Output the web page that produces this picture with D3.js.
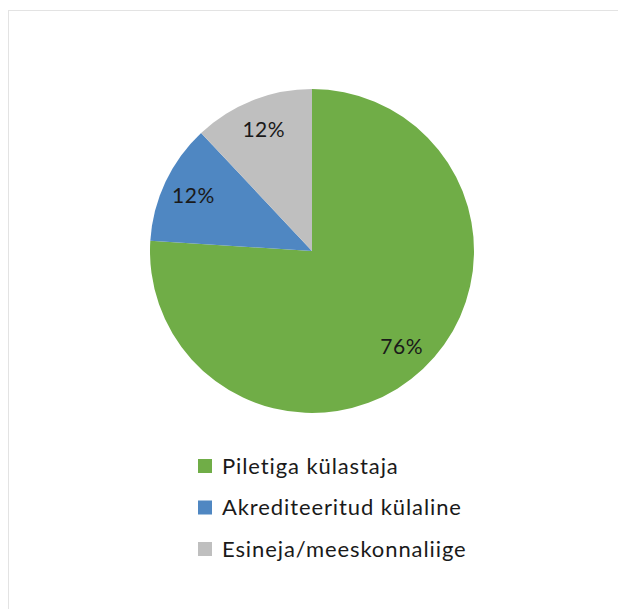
<!DOCTYPE html>
<html><head><meta charset="utf-8">
<script src="https://cdn.jsdelivr.net/npm/d3@7"></script>
<style>body{margin:0;background:#fff}svg{display:block}text{font-variant-ligatures:none}</style>
</head><body>
<script>
const categories = ["Piletiga külastaja", "Akrediteeritud külaline", "Esineja/meeskonnaliige"];
const values = [76, 12, 12];
const labels = ["76%", "12%", "12%"];
const colors = ["#70AD47", "#4F87C2", "#BFBFBF"];

const W = 618, H = 609;
const svg = d3.select("body").append("svg").attr("width", W).attr("height", H);
svg.append("rect").attr("x", 8.5).attr("y", 10.5).attr("width", 640).attr("height", 640)
  .attr("fill", "#fff").attr("stroke", "#e3e3e3");

const cx = 312, cy = 251, R = 162;
const pie = d3.pie().sort(null).value(d => d)(values);
const arc = d3.arc().innerRadius(0).outerRadius(R);
const labelArc = d3.arc().innerRadius(131).outerRadius(131);
const g = svg.append("g").attr("transform", `translate(${cx},${cy})`);
g.selectAll("path").data(pie).join("path").attr("d", arc).attr("fill", (d, i) => colors[i]);
g.selectAll("text").data(pie).join("text")
  .attr("transform", d => `translate(${labelArc.centroid(d)})`)
  .attr("text-anchor", "middle").attr("dy", "0.36em")
  .attr("font-family", "Lato, sans-serif").attr("font-size", 21).attr("letter-spacing", 0.5)
  .attr("fill", "#1a1a1a")
  .text((d, i) => labels[i]);

const leg = svg.append("g");
const rows = leg.selectAll("g").data(categories).join("g")
  .attr("transform", (d, i) => `translate(198,${459 + i * 41.5})`);
rows.append("rect").attr("width", 14).attr("height", 14).attr("fill", (d, i) => colors[i]);
rows.append("text").attr("x", 24).attr("y", 7).attr("dy", "0.36em")
  .attr("font-family", "Lato, sans-serif").attr("font-size", 22).attr("letter-spacing", 0.9)
  .attr("fill", "#1a1a1a")
  .text(d => d);
</script>
</body></html>
